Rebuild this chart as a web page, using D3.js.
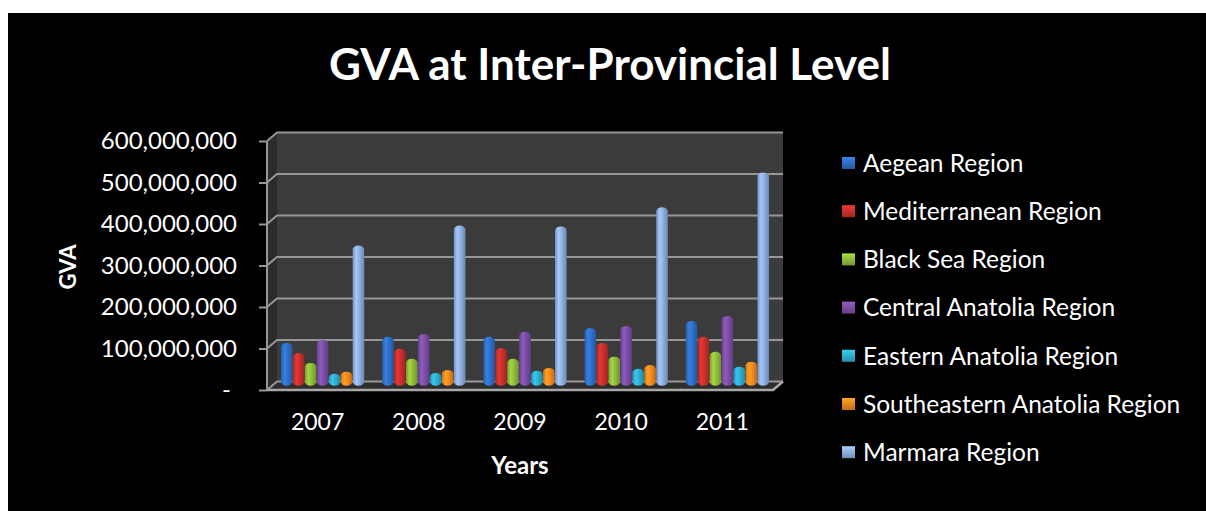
<!DOCTYPE html>
<html><head><meta charset="utf-8">
<script src="https://cdn.jsdelivr.net/npm/d3@7"></script>
<style>
html,body{margin:0;padding:0;background:#fff;}
svg{display:block;}
text{font-family:Lato,"Open Sans",sans-serif;fill:#fff;}
</style></head>
<body>
<svg id="chart" width="1206" height="511"></svg>
<script>
const years = ["2007","2008","2009","2010","2011"];
const regions = ["Aegean Region","Mediterranean Region","Black Sea Region","Central Anatolia Region","Eastern Anatolia Region","Southeastern Anatolia Region","Marmara Region"];
const aegean        = [103e6,118e6,118e6,139e6,156e6];
const mediterranean = [ 79e6, 89e6, 91e6,103e6,118e6];
const blackSea      = [ 55e6, 65e6, 65e6, 70e6, 82e6];
const centralAnat   = [110e6,125e6,130e6,144e6,168e6];
const easternAnat   = [ 29e6, 31e6, 36e6, 41e6, 46e6];
const southeastAnat = [ 34e6, 38e6, 43e6, 50e6, 58e6];
const marmara       = [338e6,386e6,384e6,430e6,514e6];
const seriesValues = [aegean, mediterranean, blackSea, centralAnat, easternAnat, southeastAnat, marmara];
const yTicks = [0,100e6,200e6,300e6,400e6,500e6,600e6];
const colors = ["#2f6fc6","#c9302c","#8fbb3a","#7b4ea6","#2eaecf","#f28a1e","#8eaee0"];

const svg = d3.select("#chart");
svg.append("rect").attr("x",8).attr("y",13).attr("width",1198).attr("height",498).attr("fill","#000");

// geometry
const fx0 = 267, fx1 = 773, fy0 = 390, fy1 = 141;
const dx = 10, dy = -8.5;
const x = d3.scaleBand().domain(years).range([fx0, fx1]);
const yFront = d3.scaleLinear().domain([0,600e6]).range([fy0, fy1]);
const yBar = d3.scaleLinear().domain([0,600e6]).range([fy0+dy/2, fy1+dy/2]);
const xs = d3.scaleBand().domain(regions).range([0, x.bandwidth()]).paddingInner(0.03).paddingOuter(0.75);

// walls
const defs = svg.append("defs");
svg.append("polygon").attr("points",[[fx0,fy0],[fx0,fy1],[fx0+dx,fy1+dy],[fx0+dx,fy0+dy]].join(" ")).attr("fill","#2b2b2b");
svg.append("polygon").attr("points",[[fx0+dx,fy1+dy],[fx1+dx,fy1+dy],[fx1+dx,fy0+dy],[fx0+dx,fy0+dy]].join(" ")).attr("fill","#3b3b3b");
svg.append("polygon").attr("points",[[fx0,fy0],[fx1,fy0],[fx1+dx,fy0+dy],[fx0+dx,fy0+dy]].join(" ")).attr("fill","#2e2e2e");

// gridlines
const grid = svg.append("g").attr("stroke","#979797").attr("stroke-width",2).attr("fill","none");
yTicks.forEach(t=>{
  const yf = yFront(t);
  grid.append("path").attr("d",`M${fx0},${yf}L${fx0+dx},${yf+dy}L${fx1+dx},${yf+dy}`);
});
// floor front edge
svg.append("path").attr("d",`M${fx0},${fy0}L${fx1},${fy0}L${fx1+dx},${fy0+dy}`).attr("stroke","#a8a8a8").attr("stroke-width",2.5).attr("fill","none");
// left axis line
svg.append("line").attr("x1",fx0).attr("x2",fx0).attr("y1",fy0).attr("y2",fy1).attr("stroke","#979797").attr("stroke-width",2);

// y axis
const yAxis = d3.axisLeft(yFront).tickValues(yTicks).tickSize(8).tickPadding(22)
  .tickFormat(d => d===0 ? "-" : d3.format(",")(d));
const ya = svg.append("g").attr("transform",`translate(${fx0},0)`).call(yAxis);
ya.select(".domain").remove();
ya.selectAll(".tick line").attr("stroke","#979797").attr("stroke-width",2);
ya.selectAll(".tick text").attr("font-size",24).attr("fill","#fff").style("font-family","Lato");
ya.selectAll(".tick text").filter(d=>d===0).attr("dx",-6);

// x axis
const xAxis = d3.axisBottom(x).tickSize(0).tickPadding(24);
const xa = svg.append("g").attr("transform",`translate(0,${fy0})`).call(xAxis);
xa.select(".domain").remove();
xa.selectAll(".tick text").attr("font-size",23).attr("fill","#fff").style("font-family","Lato");

// gradients
colors.forEach((c,i)=>{
  const g = defs.append("linearGradient").attr("id","cyl"+i).attr("x1","0").attr("x2","1").attr("y1","0").attr("y2","0");
  const base = d3.color(c);
  g.append("stop").attr("offset","0%").attr("stop-color",base.darker(0.5));
  g.append("stop").attr("offset","30%").attr("stop-color",base.brighter(0.4));
  g.append("stop").attr("offset","60%").attr("stop-color",base);
  g.append("stop").attr("offset","100%").attr("stop-color",base.darker(0.7));
  const m = defs.append("linearGradient").attr("id","mk"+i).attr("x1","0").attr("x2","0").attr("y1","0").attr("y2","1");
  m.append("stop").attr("offset","0%").attr("stop-color",base.brighter(0.5));
  m.append("stop").attr("offset","100%").attr("stop-color",base.darker(0.6));
});

// bars
const barsG = svg.append("g");
years.forEach((yr,yi)=>{
  regions.forEach((r,ri)=>{
    const v = seriesValues[ri][yi];
    const bx = x(yr) + xs(r) + dx/2;
    const w = xs.bandwidth();
    const top = yBar(v), base = yBar(0);
    barsG.append("rect").attr("x",bx).attr("y",top).attr("width",w).attr("height",base-top)
      .attr("rx",w/2).attr("ry",4).attr("fill",`url(#cyl${ri})`);
  });
});

// title
svg.append("text").attr("x",610).attr("y",80).attr("text-anchor","middle")
  .attr("font-size",44).attr("font-weight","bold").text("GVA at Inter-Provincial Level");

// axis titles
svg.append("text").attr("transform","translate(76,267) rotate(-90)").attr("text-anchor","middle")
  .attr("font-size",22).attr("font-weight","bold").text("GVA");
svg.append("text").attr("x",520).attr("y",474).attr("text-anchor","middle")
  .attr("font-size",24).attr("font-weight","bold").text("Years");

// legend
const leg = svg.append("g");
regions.forEach((r,i)=>{
  const cy = 163 + i*48.2;
  leg.append("rect").attr("x",842).attr("y",cy-6).attr("width",13).attr("height",12).attr("fill",`url(#mk${i})`);
  leg.append("text").attr("x",863).attr("y",cy).attr("dy","0.36em").attr("font-size",24.5).text(r);
});
</script>
</body></html>
